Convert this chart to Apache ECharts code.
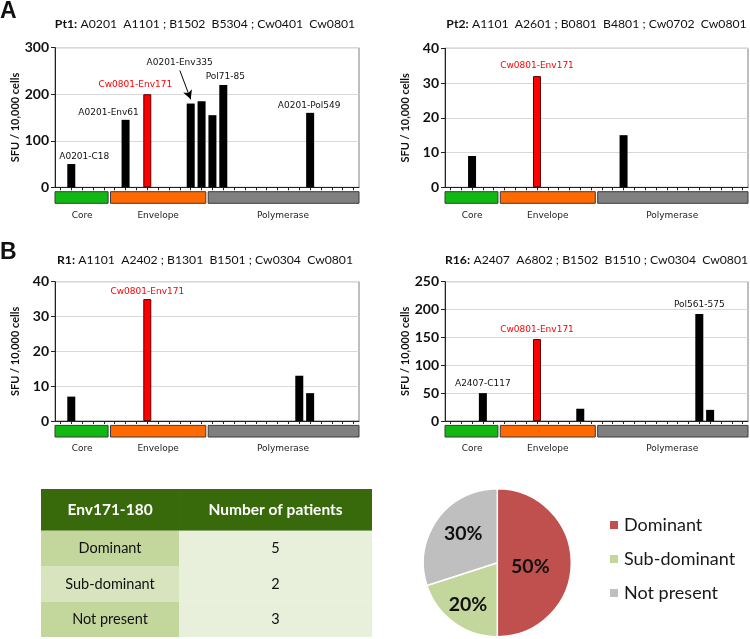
<!DOCTYPE html>
<html>
<head>
<meta charset="utf-8">
<script src="https://cdn.jsdelivr.net/npm/echarts@6/dist/echarts.min.js"></script>
<style>html,body{margin:0;padding:0;background:#fff}#c{width:750px;height:639px}</style>
</head>
<body>
<div id="c"></div>
<script>
// ---------- DATA ----------
const peptides = ['C1','C2','C3','C4','C5',
  'E1','E2','E3','E4','E5','E6','E7','E8','E9',
  'P1','P2','P3','P4','P5','P6','P7','P8','P9','P10','P11','P12','P13','P14'];
const regionNames = ['Core', 'Envelope', 'Polymerase'];
const regionStart = [0, 5, 14];
const regionEnd = [5, 14, 28];
const env171Peptide = 8;

const panelIds = ['Pt1:', 'Pt2:', 'R1:', 'R16:'];
const hlaTypes = [
  'A0201  A1101 ; B1502  B5304 ; Cw0401  Cw0801',
  'A1101  A2601 ; B0801  B4801 ; Cw0702  Cw0801',
  'A1101  A2402 ; B1301  B1501 ; Cw0304  Cw0801',
  'A2407  A6802 ; B1502  B1510 ; Cw0304  Cw0801'
];
const yMax = [300, 40, 40, 250];
const yStep = [100, 10, 10, 50];

const pt1Pos = [1, 6, 8, 12, 13, 14, 15, 23];
const pt1Val = [50, 145, 200, 180, 185, 155, 220, 160];
const pt1Tags = ['A0201-C18', 'A0201-Env61', 'Cw0801-Env171', 'A0201-Env335', '', '', 'Pol71-85', 'A0201-Pol549'];

const pt2Pos = [2, 8, 16];
const pt2Val = [9, 32, 15];
const pt2Tags = ['', 'Cw0801-Env171', ''];

const r1Pos = [1, 8, 22, 23];
const r1Val = [7, 35, 13, 8];
const r1Tags = ['', 'Cw0801-Env171', '', ''];

const r16Pos = [3, 8, 12, 23, 24];
const r16Val = [50, 147, 22, 192, 20];
const r16Tags = ['A2407-C117', 'Cw0801-Env171', '', 'Pol561-575', ''];

const tableHeader = ['Env171-180', 'Number of patients'];
const responseTypes = ['Dominant', 'Sub-dominant', 'Not present'];
const patientCounts = [5, 2, 3];

// ---------- STYLE / LAYOUT ----------
const panels = [
  {pos: pt1Pos, val: pt1Val, tags: pt1Tags},
  {pos: pt2Pos, val: pt2Val, tags: pt2Tags},
  {pos: r1Pos, val: r1Val, tags: r1Tags},
  {pos: r16Pos, val: r16Val, tags: r16Tags}
];
const boxes = [
  {left: 55, top: 47.7, width: 304, height: 139.6},
  {left: 445, top: 48.3, width: 303, height: 139},
  {left: 55, top: 281.7, width: 304, height: 139.3},
  {left: 445, top: 281.7, width: 303, height: 139.3}
];
const titleY = [24, 24, 260, 260.5];
const titleDx = [-2, 0, -2, 0];
// label tweaks per panel: [dx, dy, distance]
const labelTweaks = [
  {'A0201-C18': [13, 0, 3], 'A0201-Env61': [-17, 0, 3], 'Cw0801-Env171': [-12, 0, 5.5],
   'A0201-Env335': [-11, -33, 3], 'Pol71-85': [2, 0, 4], 'A0201-Pol549': [-1, 0, 3]},
  {'Cw0801-Env171': [0, 0, 6]},
  {'Cw0801-Env171': [0, 0, 3]},
  {'A2407-C117': [0, 0, 4.5], 'Cw0801-Env171': [0, 0, 5], 'Pol561-575': [0, 0, 4.5]}
];
// pie label placement: fraction of radius, angle nudge (deg)
const pieLabelRadius = [0.45, 0.69, 0.6];
const pieLabelTurn = [7, -1, 4];
const regionColors = ['#12b812', '#ff6a00', '#808080'];
const txtFont = 'DejaVu Sans';
const mainFont = 'Lato';

const grids = [], xAxes = [], yAxes = [], series = [];

boxes.forEach((b, p) => {
  grids.push({left: b.left, top: b.top, width: b.width, height: b.height,
    show: true, borderColor: '#7f7f7f', borderWidth: 1, containLabel: false});
  xAxes.push({type: 'category', gridIndex: p, data: peptides, boundaryGap: true,
    axisLine: {lineStyle: {color: '#222', width: 1}},
    axisTick: {show: true, alignWithLabel: true, interval: 0, length: 3, lineStyle: {color: '#222'}},
    axisLabel: {show: false}, splitLine: {show: false}});
  yAxes.push({type: 'value', gridIndex: p, min: 0, max: yMax[p], interval: yStep[p],
    name: 'SFU / 10,000 cells', nameLocation: 'middle', nameGap: 34,
    nameTextStyle: {fontFamily: mainFont, fontWeight: 'bold', fontSize: 11, color: '#111'},
    axisLine: {show: true, lineStyle: {color: '#222', width: 1}},
    axisTick: {show: true, length: 4, lineStyle: {color: '#222'}},
    axisLabel: {fontFamily: mainFont, fontWeight: 'bold', fontSize: 14, color: '#111', margin: 6},
    splitLine: {show: true, lineStyle: {color: '#d9d9d9', width: 1}}});
  const pd = panels[p];
  const tw = labelTweaks[p];
  const s = {
    type: 'bar', xAxisIndex: p, yAxisIndex: p, barWidth: 8, silent: true,
    data: pd.pos.map((c, i) => {
      const red = c === env171Peptide;
      const tag = pd.tags[i];
      const t = tw[tag] || [0, 0, 3];
      return {
        value: [c, pd.val[i]],
        itemStyle: red ? {color: '#ff0000', borderColor: '#5a0000', borderWidth: 1} : {color: '#000'},
        label: tag ? {show: true, formatter: tag, position: 'top', distance: t[2], offset: [t[0], t[1]],
          fontFamily: txtFont, fontSize: 9, color: red ? '#ff0000' : '#111'} : {show: false}
      };
    })
  };
  if (p === 0) {
    const k = pd.tags.indexOf('A0201-Env335');
    const c = pd.pos[k], v = pd.val[k];
    s.markLine = {silent: true, symbol: ['none', 'arrow'], symbolSize: [7, 9], animation: false,
      lineStyle: {color: '#000', width: 1, type: 'solid'}, label: {show: false},
      data: [[{coord: [c - 1.08, v + 71]}, {coord: [c, v + 9]}]]};
  }
  series.push(s);
});

// region strips
boxes.forEach((b, p) => {
  const gi = 4 + p;
  grids.push({left: b.left, top: b.top + b.height + 4.4, width: b.width, height: 11.6});
  xAxes.push({type: 'value', gridIndex: gi, min: 0, max: peptides.length, show: false});
  yAxes.push({type: 'category', gridIndex: gi, data: ['region'], show: false});
  series.push({
    type: 'custom', xAxisIndex: gi, yAxisIndex: gi, silent: true, clip: false,
    data: regionNames.map((n, i) => [regionStart[i], regionEnd[i], 0]),
    renderItem: (params, api) => {
      const a = api.coord([api.value(0), 0]);
      const e = api.coord([api.value(1), 0]);
      const cs = params.coordSys;
      const i = params.dataIndex;
      const x0 = a[0] + (i === 0 ? 0 : 1.2);
      const x1 = e[0] - (i === regionNames.length - 1 ? 0 : 1.2);
      return {type: 'group', children: [
        {type: 'rect', shape: {x: x0, y: cs.y, width: x1 - x0, height: cs.height},
         style: {fill: regionColors[i], stroke: '#3a3a3a', lineWidth: 1}},
        {type: 'text', x: (a[0] + e[0]) / 2, y: cs.y + cs.height + 7.5,
         style: {text: regionNames[i], fontFamily: txtFont, fontSize: 9, fill: '#222',
           textAlign: 'center', textVerticalAlign: 'top'}}
      ]};
    }
  });
});

// table
const colEdges = [0, 0.417, 1];
const rowEdges = [0, 0.282, 0.521, 0.761, 1];
const tableCells = [];
tableHeader.forEach((h, c) => tableCells.push([c, 0, h]));
responseTypes.forEach((r, i) => {
  tableCells.push([0, i + 1, r]);
  tableCells.push([1, i + 1, String(patientCounts[i])]);
});
grids.push({left: 41, top: 489, width: 331, height: 148});
xAxes.push({type: 'value', gridIndex: 8, min: 0, max: 1, show: false});
yAxes.push({type: 'value', gridIndex: 8, min: 0, max: 1, inverse: true, show: false});
const col0Fill = ['#c3d69b', '#d7e4bd', '#c3d69b'];
series.push({
  type: 'custom', xAxisIndex: 8, yAxisIndex: 8, silent: true,
  data: tableCells,
  renderItem: (params, api) => {
    const c = api.value(0), r = api.value(1);
    const tl = api.coord([colEdges[c], rowEdges[r]]);
    const br = api.coord([colEdges[c + 1], rowEdges[r + 1]]);
    const txt = tableCells[params.dataIndex][2];
    const fill = r === 0 ? '#38690a' : (c === 0 ? col0Fill[r - 1] : '#e8efdb');
    return {type: 'group', children: [
      {type: 'rect', shape: {x: tl[0], y: tl[1], width: br[0] - tl[0], height: br[1] - tl[1]},
       style: {fill: fill}},
      {type: 'text', x: (tl[0] + br[0]) / 2, y: (tl[1] + br[1]) / 2,
       style: {text: txt, fontFamily: mainFont, fontSize: r === 0 ? 15.5 : 14.5,
         fontWeight: r === 0 ? 'bold' : 'normal', fill: r === 0 ? '#fff' : '#111',
         textAlign: 'center', textVerticalAlign: 'middle'}}
    ]};
  }
});

// pie
const pieIndex = series.length;
series.push({
  type: 'pie', center: [497.3, 562.7], radius: 74, startAngle: 90, clockwise: true, silent: true,
  data: responseTypes.map((n, i) => ({name: n, value: patientCounts[i]})),
  color: ['#c0504d', '#c3d69b', '#bfbfbf'],
  itemStyle: {borderColor: '#fff', borderWidth: 1.5},
  label: {show: false}, labelLine: {show: false}, emphasis: {disabled: true}
});

// titles and panel letters
const graphic = [];
boxes.forEach((b, p) => {
  graphic.push({type: 'text', x: b.left + b.width / 2 + titleDx[p], y: titleY[p], silent: true,
    style: {text: '{b|' + panelIds[p] + '} {n|' + hlaTypes[p] + '}',
      textAlign: 'center', textVerticalAlign: 'middle',
      rich: {b: {fontFamily: mainFont, fontWeight: 'bold', fontSize: 12.2, fill: '#111'},
             n: {fontFamily: mainFont, fontSize: 12.2, fill: '#111'}}}});
});
graphic.push({type: 'text', x: 0, y: 12, silent: true,
  style: {text: 'A', fontFamily: 'Liberation Sans', fontWeight: 'bold', fontSize: 23, fill: '#111', textVerticalAlign: 'middle'}});
graphic.push({type: 'text', x: 0, y: 253, silent: true,
  style: {text: 'B', fontFamily: 'Liberation Sans', fontWeight: 'bold', fontSize: 23, fill: '#111', textVerticalAlign: 'middle'}});

const chart = echarts.init(document.getElementById('c'), null, {renderer: 'canvas'});
chart.setOption({
  animation: false,
  backgroundColor: '#fff',
  grid: grids, xAxis: xAxes, yAxis: yAxes, series: series, graphic: graphic,
  legend: {data: responseTypes, orient: 'vertical', left: 608, top: 515, itemWidth: 10, itemHeight: 10,
    itemGap: 14, icon: 'rect', padding: 0, selectedMode: false,
    textStyle: {fontFamily: mainFont, fontSize: 18, color: '#1a1a1a', lineHeight: 20}}
});

// pie percentage labels placed from the pie's own layout
const pieModel = chart.getModel().getSeriesByIndex(pieIndex);
const pieData = pieModel.getData();
responseTypes.forEach((n, i) => {
  const L = pieData.getItemLayout(i);
  const mid = (L.startAngle + L.endAngle) / 2 + pieLabelTurn[i] * Math.PI / 180;
  const r = L.r * pieLabelRadius[i];
  const pct = pieModel.getDataParams(i).percent;
  graphic.push({type: 'text', x: L.cx + r * Math.cos(mid), y: L.cy + r * Math.sin(mid),
    silent: true, z: 100, zlevel: 0,
    style: {text: Math.round(pct) + '%', fontFamily: mainFont, fontWeight: 'bold', fontSize: 19.5,
      fill: '#111', textAlign: 'center', textVerticalAlign: 'middle'}});
});
chart.setOption({graphic: graphic});
</script>
</body>
</html>
